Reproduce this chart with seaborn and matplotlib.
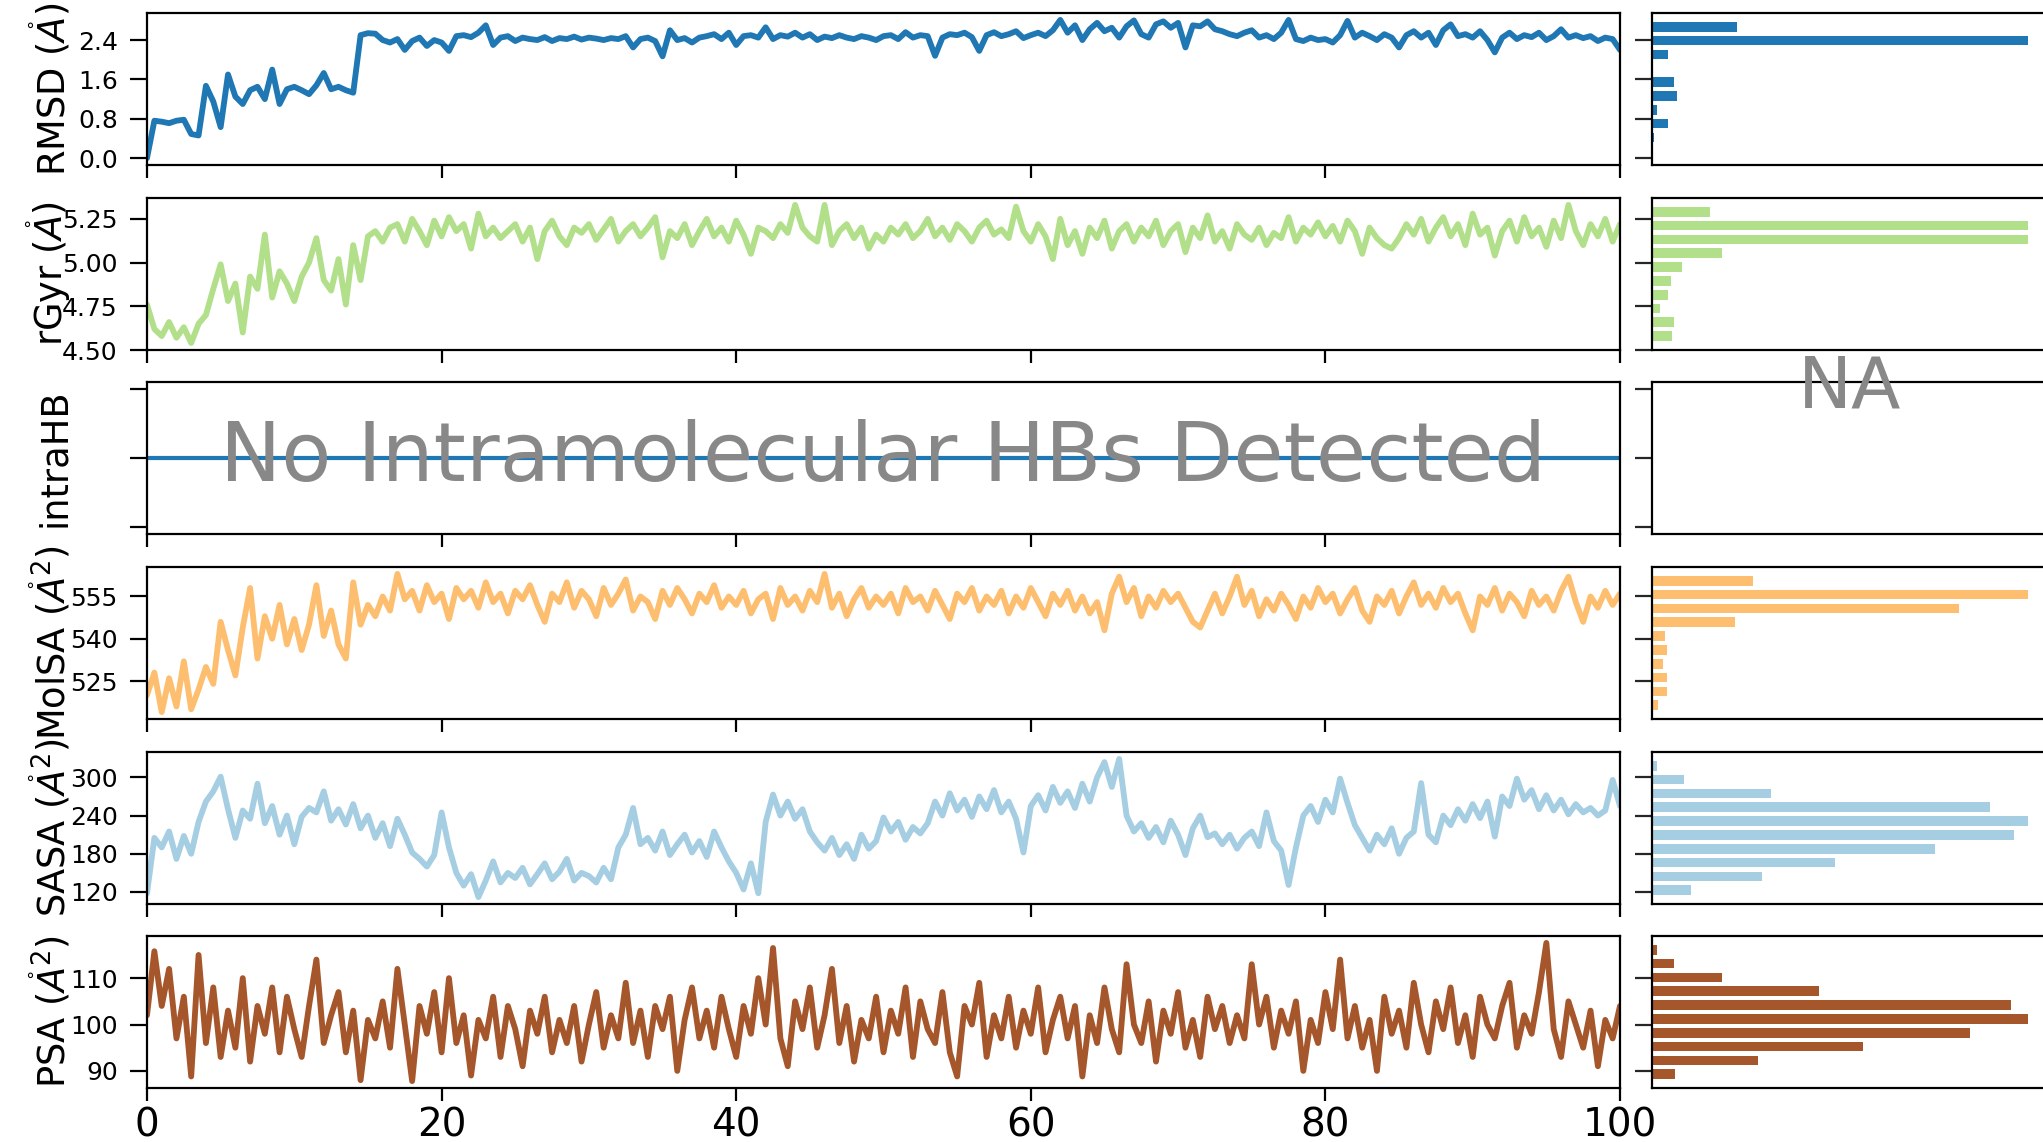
import numpy as np
import pandas as pd
import matplotlib
matplotlib.use("Agg")
import matplotlib.pyplot as plt
import matplotlib.transforms as mtransforms
import seaborn as sns

# ---------------- data ----------------
TIME_STEP_NS = 0.5

rmsd = [0.00,0.76,0.74,0.71,0.76,0.78,0.49,0.46,1.47,1.15,
        0.63,1.70,1.25,1.10,1.38,1.45,1.20,1.80,1.10,1.40,
        1.45,1.38,1.30,1.48,1.73,1.40,1.45,1.38,1.33,2.50,
        2.54,2.53,2.40,2.35,2.42,2.20,2.38,2.45,2.28,2.40,
        2.35,2.18,2.48,2.50,2.46,2.55,2.70,2.30,2.45,2.48,
        2.38,2.45,2.42,2.40,2.46,2.38,2.44,2.42,2.47,2.41,
        2.45,2.43,2.40,2.44,2.42,2.48,2.25,2.42,2.45,2.38,
        2.07,2.60,2.40,2.44,2.35,2.45,2.48,2.52,2.42,2.55,
        2.30,2.48,2.50,2.45,2.66,2.42,2.50,2.47,2.55,2.45,
        2.52,2.40,2.47,2.44,2.50,2.45,2.42,2.48,2.45,2.40,
        2.48,2.50,2.42,2.56,2.45,2.50,2.48,2.08,2.45,2.52,
        2.50,2.55,2.46,2.18,2.50,2.56,2.48,2.52,2.58,2.44,
        2.50,2.55,2.48,2.60,2.81,2.55,2.70,2.40,2.62,2.75,
        2.58,2.65,2.45,2.68,2.80,2.52,2.45,2.72,2.78,2.65,
        2.75,2.25,2.70,2.68,2.78,2.62,2.58,2.52,2.48,2.55,
        2.60,2.45,2.50,2.42,2.55,2.81,2.42,2.38,2.45,2.40,
        2.42,2.35,2.50,2.79,2.45,2.55,2.48,2.40,2.52,2.45,
        2.25,2.50,2.58,2.45,2.55,2.30,2.60,2.72,2.48,2.52,
        2.45,2.58,2.40,2.15,2.45,2.55,2.42,2.50,2.46,2.55,
        2.40,2.48,2.62,2.45,2.50,2.44,2.48,2.38,2.45,2.42,
        2.20]

rgyr = [4.76,4.62,4.58,4.66,4.57,4.63,4.54,4.65,4.70,4.85,
        4.99,4.78,4.88,4.60,4.92,4.85,5.16,4.80,4.95,4.88,
        4.78,4.92,5.00,5.14,4.90,4.84,5.02,4.76,5.10,4.90,
        5.15,5.18,5.12,5.20,5.22,5.12,5.25,5.18,5.10,5.24,
        5.15,5.26,5.18,5.22,5.08,5.28,5.15,5.20,5.14,5.18,
        5.22,5.12,5.20,5.02,5.18,5.24,5.15,5.10,5.20,5.17,
        5.22,5.13,5.19,5.25,5.12,5.18,5.22,5.15,5.20,5.26,
        5.03,5.18,5.14,5.22,5.10,5.18,5.25,5.15,5.20,5.12,
        5.24,5.16,5.05,5.20,5.18,5.14,5.22,5.17,5.33,5.20,
        5.15,5.12,5.33,5.10,5.18,5.22,5.14,5.20,5.08,5.16,
        5.12,5.20,5.16,5.22,5.14,5.18,5.25,5.15,5.20,5.13,
        5.22,5.18,5.12,5.20,5.24,5.16,5.19,5.14,5.32,5.18,
        5.12,5.22,5.15,5.02,5.25,5.10,5.18,5.05,5.20,5.14,
        5.24,5.08,5.18,5.22,5.12,5.20,5.15,5.24,5.10,5.18,
        5.22,5.06,5.20,5.14,5.27,5.12,5.18,5.08,5.22,5.16,
        5.13,5.20,5.10,5.17,5.14,5.26,5.12,5.20,5.16,5.23,
        5.15,5.21,5.12,5.24,5.18,5.05,5.20,5.14,5.10,5.08,
        5.14,5.22,5.16,5.25,5.12,5.20,5.26,5.15,5.22,5.10,
        5.28,5.16,5.20,5.04,5.18,5.24,5.12,5.26,5.15,5.20,
        5.09,5.24,5.14,5.33,5.18,5.10,5.22,5.15,5.25,5.12,
        5.22]

intrahb_time = [0.0, 100.0]
intrahb = [0, 0]

molsa = [520,528,514,526,516,532,515,522,530,524,
         546,536,527,544,558,533,548,540,552,538,
         547,536,545,559,541,550,538,533,560,545,
         552,548,555,550,563,554,557,550,559,553,
         556,547,558,554,557,551,560,553,556,549,
         557,554,559,552,546,556,553,560,551,557,
         554,548,558,552,556,561,550,555,553,547,
         557,552,558,554,549,556,553,559,551,555,
         552,557,549,554,556,547,558,552,555,550,
         557,553,563,551,556,548,554,558,551,555,
         552,556,549,558,553,555,550,557,552,547,
         556,553,558,550,555,552,557,549,555,551,
         558,553,548,556,552,557,550,555,549,553,
         543,556,562,553,558,548,555,551,557,553,
         556,551,546,544,550,556,549,555,562,552,
         557,548,554,550,556,552,547,555,551,558,
         553,556,549,554,558,550,546,555,552,557,
         549,555,560,552,556,551,558,553,556,549,
         543,555,552,558,550,556,553,548,557,552,
         555,550,557,562,553,546,555,551,557,552,
         556]

sasa = [118,205,190,215,172,208,180,230,262,278,
        301,250,205,248,235,290,228,255,210,240,
        195,238,252,245,278,232,250,226,258,220,
        240,205,228,192,235,210,182,172,160,178,
        245,190,150,130,148,112,138,168,135,150,
        142,158,132,148,165,140,152,172,138,150,
        145,135,158,140,190,210,252,195,205,185,
        215,178,195,210,182,200,175,215,190,168,
        150,124,165,118,230,273,240,262,235,250,
        215,198,185,205,178,195,172,210,188,200,
        237,215,230,202,222,212,228,262,240,275,
        248,265,238,270,250,280,245,262,235,182,
        255,272,248,285,260,278,252,290,262,300,
        324,285,329,240,215,228,205,222,198,232,
        210,178,220,240,206,212,195,210,188,205,
        215,192,245,200,185,131,190,240,255,230,
        265,245,298,260,225,205,185,210,195,220,
        180,205,215,291,210,198,240,225,250,232,
        258,236,262,207,270,255,298,265,280,250,
        272,248,265,242,258,245,252,240,248,296,
        255]

psa = [102,115.8,104,112,97,106,88.8,115,96,108,
       93,103,95,110,92,104,98,108,94,106,
       99,93,104,114,96,102,107,94,103,88,
       101,97,105,95,112,100,87.8,104,98,107,
       94,110,96,102,89,101,97,106,93,104,
       99,91,103,98,106,94,101,96,104,92,
       100,107,95,102,97,109,96,103,93,104,
       99,106,90,101,108,97,103,95,106,99,
       93,104,98,110,100,116.5,97,91,105,99,
       108,95,102,112,96,104,92,101,97,106,
       94,103,98,108,93,105,99,96,107,94,
       88.8,104,100,109,93,102,97,106,95,103,
       98,108,94,101,106,97,104,88.8,102,96,
       108,99,94,113,100,96,105,92,103,98,
       107,95,101,93,106,99,104,96,102,97,
       113,100,106,95,103,98,105,90,101,96,
       107,99,114,97,104,95,101,90,106,98,
       103,95,109,100,94,105,99,108,96,102,
       93,106,100,97,104,109,95,102,98,107,
       117.6,99,93,105,100,95,103,91,101,97,
       104]

# histogram bar lengths (10 bins, lowest value bin first)
rmsd_hist  = [1, 5, 48, 15, 75, 65, 0, 48, 1125, 253]
rgyr_hist  = [61, 67, 25, 48, 58, 91, 210, 1125, 1125, 173]
molsa_hist = [18, 45, 45, 32, 45, 38, 247, 917, 1125, 303]
sasa_hist  = [118, 329, 547, 847, 1082, 1125, 1010, 355, 95, 15]
psa_hist   = [68, 316, 630, 950, 1125, 1075, 500, 210, 65, 15]

labels = [r'RMSD ($\mathring{A}$)', r'rGyr ($\mathring{A}$)', 'intraHB',
          r'MolSA ($\mathring{A}^{2}$)', r'SASA ($\mathring{A}^{2}$)',
          r'PSA ($\mathring{A}^{2}$)']
yticks = [[0.0, 0.8, 1.6, 2.4], [4.50, 4.75, 5.00, 5.25], [-0.05, 0.0, 0.05],
          [525, 540, 555], [120, 180, 240, 300], [90, 100, 110]]
ytick_fmt = ['{:.1f}', '{:.2f}', None, '{:.0f}', '{:.0f}', '{:.0f}']
xticks = [0, 20, 40, 60, 80, 100]
colors = ['#1f77b4', '#b2df8a', '#1f77b4', '#fdbf6f', '#a6cee3', '#a6562b']
no_hb_text = 'No Intramolecular HBs Detected'
na_text = 'NA'

# ---------------- figure ----------------
sns.set_theme(style='ticks')
plt.rcParams['font.family'] = ['DejaVu Sans']
plt.rcParams['mathtext.fontset'] = 'dejavusans'

W, H = 2043, 1142
fig = plt.figure(figsize=(W / 100, H / 100), dpi=100)
fig.patch.set_facecolor('white')


def rect(x0, y0, x1, y1):
    return [x0 / W, 1 - y1 / H, (x1 - x0) / W, (y1 - y0) / H]


row_tops = [13, 198, 382, 567, 752, 936]
row_h = 152
series = [rmsd, rgyr, None, molsa, sasa, psa]
hists = [rmsd_hist, rgyr_hist, None, molsa_hist, sasa_hist, psa_hist]

for i in range(6):
    top = row_tops[i]
    ax = fig.add_axes(rect(147, top, 1620, top + row_h))
    axh = fig.add_axes(rect(1652, top, 2048, top + row_h))
    for a in (ax, axh):
        a.set_facecolor('white')
        for s in a.spines.values():
            s.set_linewidth(1.6)
            s.set_color('black')

    if series[i] is not None:
        y = np.asarray(series[i], dtype=float)
        t = np.arange(len(y)) * TIME_STEP_NS
        sns.lineplot(x=t, y=y, ax=ax, color=colors[i], linewidth=4.2,
                     estimator=None, sort=False)
        lo, hi = y.min(), y.max()
        pad = 0.05 * (hi - lo)
        ylim = (lo - pad, hi + pad)
        edges = np.linspace(lo, hi, 11)
        centers = 0.5 * (edges[:-1] + edges[1:])
        hdf = pd.DataFrame({'value': centers,
                            'count': np.asarray(hists[i], dtype=float)})
        sns.histplot(data=hdf, y='value', weights='count',
                     bins=[float(e) for e in edges], shrink=0.70,
                     color=colors[i], alpha=1.0, linewidth=0, ax=axh)
        axh.set_xlim(0, hdf['count'].max() * 1.053)
    else:
        sns.lineplot(x=intrahb_time, y=intrahb, ax=ax, color=colors[i],
                     linewidth=3.0, estimator=None, sort=False)
        ylim = (-0.055, 0.055)
        ax.text(0.5, 0.5, no_hb_text, transform=ax.transAxes, ha='center',
                va='center', fontsize=59, color='#888888', zorder=5)
        off = mtransforms.ScaledTranslation(0, -4 / 72, fig.dpi_scale_trans)
        axh.text(0.5, 1.0, na_text, transform=axh.transAxes + off,
                 ha='center', va='center', fontsize=52, color='#888888',
                 zorder=5, clip_on=False)
        axh.set_xlim(0, 1)

    ax.set_xlim(0, 100)
    ax.set_ylim(*ylim)
    axh.set_ylim(*ylim)
    ax.set_xticks(xticks)
    ax.set_yticks(yticks[i])
    axh.set_yticks(yticks[i])
    axh.set_yticklabels([])
    axh.set_xticks([])
    axh.set_xlabel('')
    axh.set_ylabel('')
    if ytick_fmt[i] is None:
        ax.set_yticklabels([])
    else:
        ax.set_yticklabels([ytick_fmt[i].format(v) for v in yticks[i]])
    if i < 5:
        ax.set_xticklabels([])
    ax.set_xlabel('')
    ax.tick_params(axis='y', direction='out', length=12, width=1.6, pad=9,
                   labelsize=18, colors='black')
    ax.tick_params(axis='x', direction='out', length=9.5, width=1.6, pad=4,
                   labelsize=28, colors='black')
    axh.tick_params(axis='y', direction='out', length=12, width=1.6)
    ax.set_ylabel(labels[i], fontsize=26.5, color='black')
    ax.yaxis.set_label_coords(-0.05, 0.5)

fig.savefig('out.png', dpi=100, facecolor='white')
